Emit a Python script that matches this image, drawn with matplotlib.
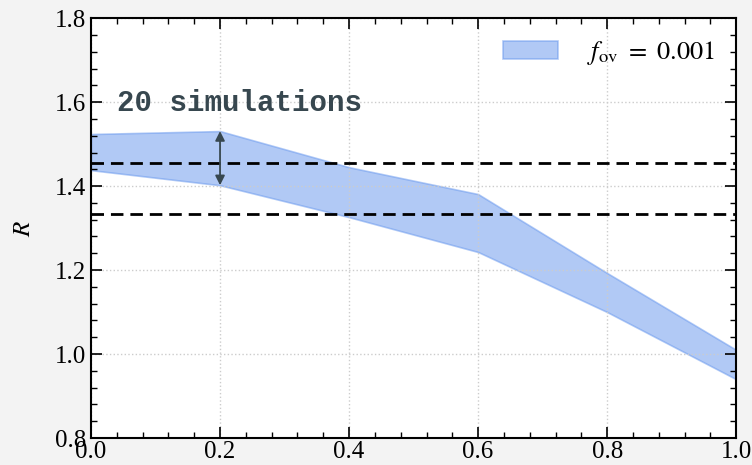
import matplotlib
matplotlib.use("Agg")
import matplotlib.pyplot as plt
from matplotlib.ticker import MultipleLocator, AutoMinorLocator

# overshoot ratio envelope across 20 runs
x_vals = [0.0, 0.2, 0.4, 0.6, 0.8, 1.0]
r_upper = [1.524, 1.531, 1.445, 1.381, 1.193, 1.010]
r_lower = [1.438, 1.402, 1.326, 1.243, 1.100, 0.940]
ref_levels = [1.455, 1.333]
band_label = r"$f_{\rm ov}\ =\ 0.001$"
note_text = "20 simulations"

plt.rcParams["font.family"] = ["Liberation Serif", "DejaVu Serif"]
plt.rcParams["mathtext.fontset"] = "stix"
plt.rcParams["xtick.direction"] = "in"
plt.rcParams["ytick.direction"] = "in"
plt.rcParams["xtick.top"] = True
plt.rcParams["ytick.right"] = True

fig = plt.figure(figsize=(7.52, 4.65), dpi=100, facecolor="#f3f3f3")
ax = fig.add_axes([0.121, 0.058, 0.858, 0.903])
ax.set_facecolor("white")

ax.fill_between(x_vals, r_lower, r_upper, color="cornflowerblue", alpha=0.5,
                linewidth=1.2, label=band_label)
for lvl in ref_levels:
    ax.axhline(lvl, color="black", linestyle=(0, (4.5, 2.5)), linewidth=2.0)

# spread marker at x = 0.2
ax.annotate("", xy=(x_vals[1], r_upper[1]), xytext=(x_vals[1], r_lower[1]),
            arrowprops=dict(arrowstyle="<|-|>", color="#37474f", lw=1.3,
                            mutation_scale=14, shrinkA=0, shrinkB=0))
ax.text(0.04, 1.597, note_text, family="Liberation Mono", fontweight="bold",
        fontsize=21, color="#37474f", va="center", ha="left")

ax.set_xlim(0, 1)
ax.set_ylim(0.8, 1.8)
ax.xaxis.set_major_locator(MultipleLocator(0.2))
ax.yaxis.set_major_locator(MultipleLocator(0.2))
ax.xaxis.set_minor_locator(AutoMinorLocator(5))
ax.yaxis.set_minor_locator(AutoMinorLocator(5))
ax.tick_params(which="major", length=8, width=1.2, labelsize=18)
ax.tick_params(which="minor", length=4, width=1.0)
ax.tick_params(axis="x", pad=2)
for sp in ax.spines.values():
    sp.set_linewidth(1.5)
ax.grid(True, which="major", linestyle=":", color="#cccccc", linewidth=1.0)

ax.set_ylabel("$R$", fontsize=18, labelpad=14)
ax.legend(loc="upper right", frameon=False, fontsize=19, handlelength=2.1,
          handletextpad=1.1, borderaxespad=0.4)

fig.savefig("out.png", dpi=100, facecolor=fig.get_facecolor())
